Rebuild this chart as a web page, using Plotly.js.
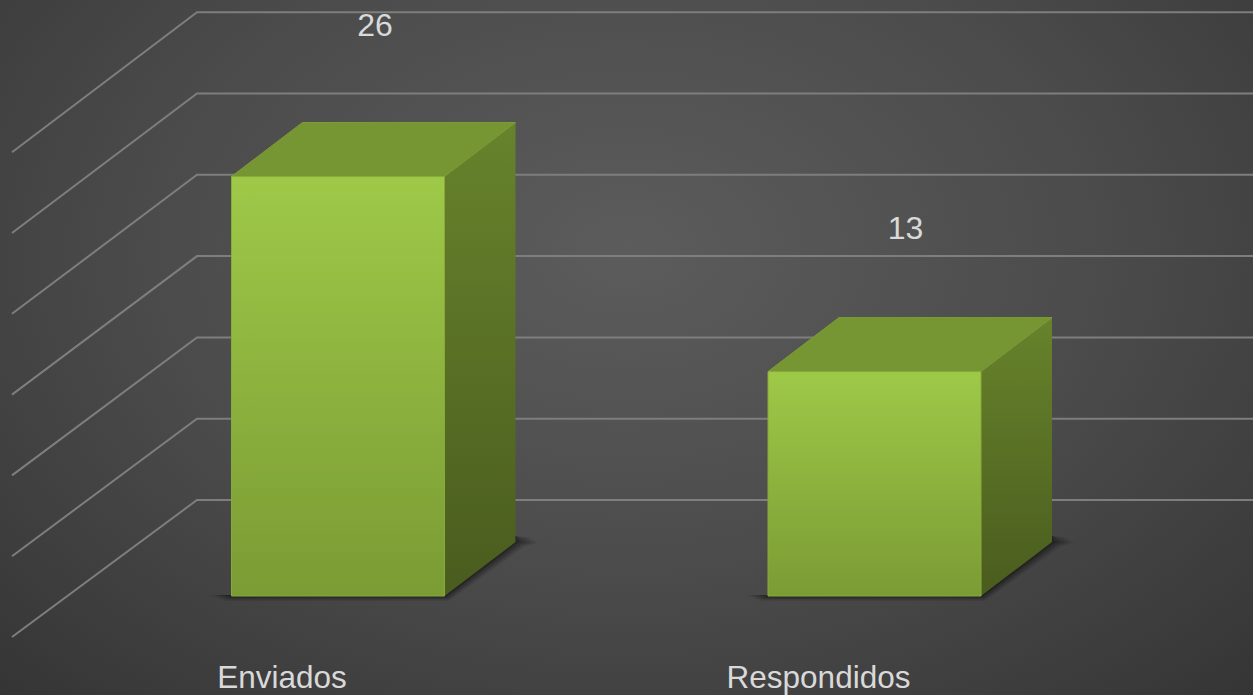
<!DOCTYPE html>
<html>
<head>
<meta charset="utf-8">
<script src="https://cdn.plot.ly/plotly-3.0.1.min.js"></script>
<style>
html,body{margin:0;padding:0;width:1253px;height:695px;overflow:hidden;
background:radial-gradient(ellipse 950px 650px at 50% 36%,#5c5c5c 0%,#4b4b4b 50%,#3a3a3a 85%,#323232 100%);}
#chart{width:1253px;height:695px;}
</style>
</head>
<body>
<div id="chart"></div>
<script>
// ---- data ----
const categories = ['Enviados', 'Respondidos'];
const barHeights = [25.8, 13.8];
const valueLabels = ['26', '13'];
const gridTicks = [0, 5, 10, 15, 20, 25, 30];
// ---- label placement relative to each bar ----
const labelDx = [0.069, 0.058];
const labelDy = [9.13, 8.65];

// ---- projection of the 3D look, in axis units ----
const pxX = 536.5, pxY = 16.26;
const barHalf = 0.1985;
const depthX = 71 / pxX, depthY = 54 / pxY;
const cornerX = -141 / pxX, cornerY = 96 / pxY;
const floorX = -326 / pxX, floorY = -41 / pxY, floorSlope = 0.1 / pxY;
const xRange = [-338 / pxX, 915 / pxX];
const yRange = [-54 / pxY, 596 / pxY];

const idx = categories.map((_, i) => i);
const poly = pts => 'M' + pts.map(p => p[0] + ',' + p[1]).join('L') + 'Z';

const shapes = [];
// soft floor shadows, made of stacked translucent polygons
const shadowSteps = [22, 19, 16, 14, 12, 10, 8, 6, 5, 4, 3, 2];
idx.forEach(i => {
  const l = i - barHalf, r = i + barHalf;
  shadowSteps.forEach(s => {
    const ex = s / pxX, ey = (s * 0.22) / pxY;
    shapes.push({
      type: 'path', xref: 'x', yref: 'y', layer: 'below', line: {width: 0},
      fillcolor: 'rgba(20,20,20,0.085)',
      path: poly([[l - ex, 1 / pxY], [l - ex * 0.3, -ey], [r + ex * 0.2, -ey],
        [r + depthX + ex * 0.4, depthY - ey], [r + depthX + ex, depthY - ey * 0.2],
        [r + depthX + ex * 0.6, depthY + ey], [r + depthX, depthY + 6 / pxY], [r, 0]])
    });
  });
});
gridTicks.forEach(t => {
  shapes.push({
    type: 'path', xref: 'x', yref: 'y', layer: 'below',
    line: {color: '#7e7e7e', width: 2},
    path: 'M' + floorX + ',' + (t + floorY - t * floorSlope) + 'L' + cornerX + ',' + (t + cornerY) + 'L' + xRange[1] + ',' + (t + cornerY)
  });
});

const traces = [];
// front faces as real bars
traces.push({
  type: 'bar', x: idx, y: barHeights, width: barHalf * 2,
  marker: {color: '#8cb13d', line: {width: 0}}, hoverinfo: 'skip', showlegend: false
});
idx.forEach(i => {
  const l = i - barHalf, r = i + barHalf, h = barHeights[i];
  // side face
  traces.push({
    type: 'scatter', mode: 'lines', fill: 'toself', hoverinfo: 'skip', showlegend: false,
    x: [r, r + depthX, r + depthX, r, r], y: [0, depthY, h + depthY, h, 0],
    line: {width: 0, color: 'rgba(0,0,0,0)'},
    fillgradient: {type: 'vertical', colorscale: [[0, '#4a5c1e'], [1, '#67832c']]}
  });
  // top face
  traces.push({
    type: 'scatter', mode: 'lines', fill: 'toself', hoverinfo: 'skip', showlegend: false,
    x: [l, l + depthX, r + depthX, r, l], y: [h, h + depthY, h + depthY, h, h],
    line: {width: 1, color: '#7c9e33'}, fillcolor: '#759632'
  });
  // front-face shading over the bar
  traces.push({
    type: 'scatter', mode: 'lines', fill: 'toself', hoverinfo: 'skip', showlegend: false,
    x: [l, r, r, l, l], y: [0, 0, h, h, 0],
    line: {width: 1, color: '#87aa3a'},
    fillgradient: {type: 'vertical', colorscale: [[0, '#7b9b34'], [1, '#9ec948']]}
  });
});
// value labels
traces.push({
  type: 'scatter', mode: 'text', hoverinfo: 'skip', showlegend: false,
  x: idx.map(i => i + labelDx[i]), y: idx.map(i => barHeights[i] + labelDy[i]),
  text: valueLabels, textposition: 'middle center',
  textfont: {family: 'Liberation Sans, Arial, sans-serif', size: 32, color: '#d9d9d9'},
  cliponaxis: false
});

Plotly.newPlot('chart', traces, {
  width: 1253, height: 695,
  margin: {l: 0, r: 0, t: 0, b: 45, pad: 0},
  paper_bgcolor: 'rgba(0,0,0,0)', plot_bgcolor: 'rgba(0,0,0,0)',
  showlegend: false, bargap: 0.6,
  xaxis: {
    range: xRange, fixedrange: true, zeroline: false, showgrid: false, showline: false,
    tickmode: 'array', tickvals: idx, ticktext: categories, ticks: '',
    ticklabelshift: -56, ticklabelstandoff: 5,
    tickfont: {family: 'Liberation Sans, Arial, sans-serif', size: 31.5, color: '#d9d9d9'}
  },
  yaxis: {range: yRange, fixedrange: true, zeroline: false, showgrid: false, showline: false, showticklabels: false, ticks: ''},
  shapes: shapes
}, {displayModeBar: false, staticPlot: true});
</script>
</body>
</html>
